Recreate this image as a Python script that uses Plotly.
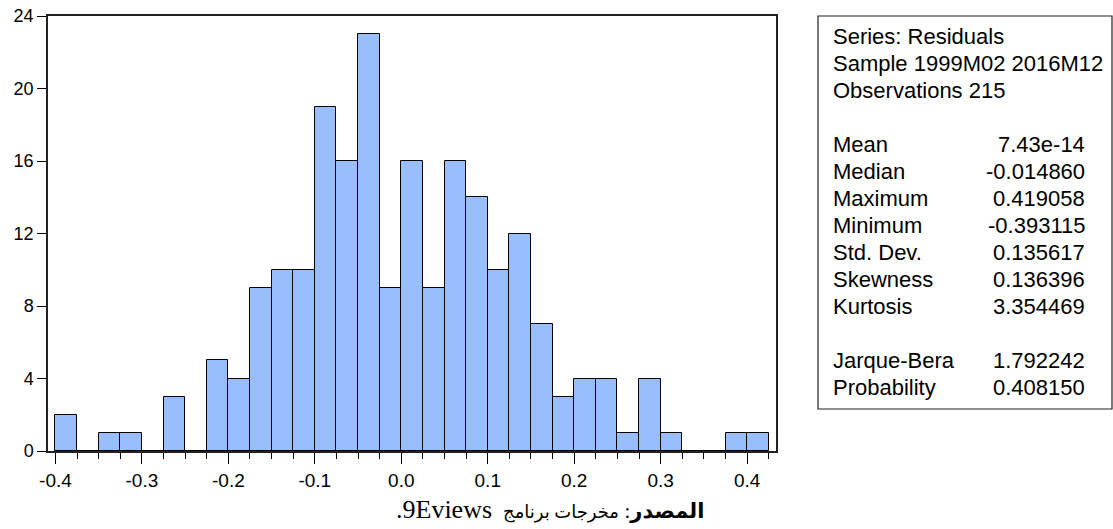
import plotly.graph_objects as go

# ---- data ----
bin_start = -0.4
bin_width = 0.025
counts = [2, 0, 1, 1, 0, 3, 0, 5, 4, 9, 10, 10, 19, 16, 23, 9, 16, 9, 16, 14,
          10, 12, 7, 3, 4, 4, 1, 4, 1, 0, 0, 1, 1]
x_tick_vals = [-0.4, -0.3, -0.2, -0.1, 0.0, 0.1, 0.2, 0.3, 0.4]
x_tick_text = ["-0.4", "-0.3", "-0.2", "-0.1", "0.0", "0.1", "0.2", "0.3", "0.4"]
y_tick_vals = [0, 4, 8, 12, 16, 20, 24]

stat_header = ["Series: Residuals", "Sample 1999M02 2016M12", "Observations 215"]
stat_labels = ["Mean", "Median", "Maximum", "Minimum", "Std. Dev.", "Skewness", "Kurtosis"]
stat_values = ["7.43e-14", "-0.014860", "0.419058", "-0.393115", "0.135617", "0.136396", "3.354469"]
test_labels = ["Jarque-Bera", "Probability"]
test_values = ["1.792242", "0.408150"]
cap_bold = "المصدر"
cap_arabic = "مخرجات برنامج"
cap_latin = "9Eviews."

centers = [bin_start + bin_width * (i + 0.5) for i in range(len(counts))]
edges = [round(bin_start + bin_width * i, 4) for i in range(len(counts) + 1)]

# ---- layout geometry (page pixels; body margin removed below) ----
W, H = 1113, 529
PL, PR, PT, PB = 48, 776, 16, 451   # plot area


def px(xp):
    return (xp - PL) / (PR - PL)


def py(yp):
    return (PB - yp) / (PB - PT)


fig = go.Figure()
fig.add_trace(go.Bar(
    x=centers, y=counts, width=bin_width,
    marker=dict(color="#98BEFE", line=dict(color="#000000", width=1)),
    hoverinfo="x+y", showlegend=False,
))

sans = "Liberation Sans, Arimo, Arial, sans-serif"
fig.update_layout(
    width=W, height=H,
    margin=dict(l=PL, r=W - PR, t=PT, b=H - PB, autoexpand=False),
    paper_bgcolor="white", plot_bgcolor="white",
    bargap=0,
    font=dict(family=sans, color="#000000"),
    xaxis=dict(
        range=[-0.4086, 0.4334], tickvals=x_tick_vals, ticktext=x_tick_text,
        ticks="outside", ticklen=11, tickcolor="#000", tickwidth=1,
        showline=True, linecolor="#222", linewidth=1.5, mirror=True,
        showgrid=False, zeroline=False, tickfont=dict(size=19, family=sans),
        ticklabeloverflow="allow", automargin=False,
        minor=dict(tickvals=edges, ticks="outside", ticklen=6, tickcolor="#000", tickwidth=1, showgrid=False),
    ),
    yaxis=dict(
        range=[0, 24], tickvals=y_tick_vals,
        ticks="outside", ticklen=9, tickcolor="#000", tickwidth=1,
        showline=True, linecolor="#222", linewidth=1.5, mirror=True,
        showgrid=False, zeroline=False, tickfont=dict(size=18, family=sans),
        ticklabeloverflow="allow", automargin=False,
    ),
)

# stats box
fig.add_shape(type="rect", xref="paper", yref="paper",
              x0=px(818), x1=px(1112), y0=py(409), y1=py(16),
              line=dict(color="#222", width=1.2), fillcolor="rgba(0,0,0,0)")

row_y0, row_dy = 36.7, 26.95
lab_x, val_x = 831, 1087
fs = 22


def add_text(text, xp, yp, anchor):
    fig.add_annotation(text=text, xref="paper", yref="paper", x=px(xp), y=py(yp),
                       xanchor=anchor, yanchor="middle", showarrow=False,
                       font=dict(family=sans, size=fs, color="#000"))


for i, t in enumerate(stat_header):
    add_text(t, lab_x, row_y0 + i * row_dy, "left")
for i, (l, v) in enumerate(zip(stat_labels, stat_values)):
    yy = row_y0 + (i + 4) * row_dy
    add_text(l, lab_x, yy, "left")
    add_text(v, val_x, yy, "right")
for i, (l, v) in enumerate(zip(test_labels, test_values)):
    yy = row_y0 + (i + 12) * row_dy
    add_text(l, lab_x, yy, "left")
    add_text(v, val_x, yy, "right")

caption = ("\u202B<span style='font-size:21px'><b>" + cap_bold + "</b>:</span> "
           "<span style='font-size:18px'>" + cap_arabic + "</span>  "
           "<span style='font-size:26px'>" + cap_latin + "</span>\u202C")
fig.add_annotation(text=caption, xref="paper", yref="paper", x=px(550), y=py(509),
                   xanchor="center", yanchor="middle", showarrow=False,
                   font=dict(family="Liberation Serif, DejaVu Sans, serif", size=22, color="#000"))

fig.write_html("out.html", config={"displayModeBar": False},
               post_script="document.body.style.margin='0px';")
